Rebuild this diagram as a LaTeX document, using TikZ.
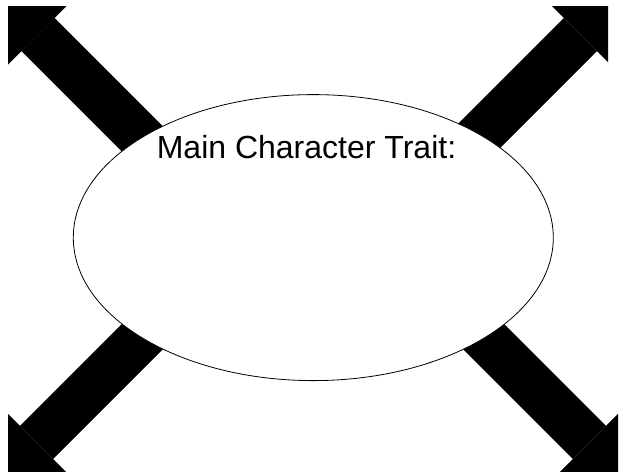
\documentclass[tikz,border=0pt]{standalone}
\usepackage{fontspec}
\setmainfont{Liberation Sans}
\usetikzlibrary{arrows.meta,shapes.geometric,backgrounds}

\begin{document}
\begin{tikzpicture}[x=1pt,y=-1pt,
  trait/.style={ellipse,draw=black,fill=white,line width=.8pt,minimum width=480pt,minimum height=286pt,inner sep=0pt},
  traittext/.style={anchor=base,font=\fontsize{32}{38}\selectfont},
  bigarrow/.style={line width=47pt,-{Triangle[width=88pt,length=60pt,line width=0pt]},black}]
\useasboundingbox (0,0) rectangle (621,475);
\node[trait] (trait) at (313.3,237.6) {};
\node[traittext] (title) at (306.5,158) {Main Character Trait:};
% arrow ends (tails hidden under the ellipse)
\coordinate (nwstart) at (178,174.5);
\coordinate (nestart) at (440.5,174.5);
\coordinate (swstart) at (176.5,302.5);
\coordinate (sestart) at (449.5,302.5);
\coordinate (nwtip) at (-4.4,-7.9);
\coordinate (netip) at (622.9,-7.9);
\coordinate (swtip) at (-5.9,484.9);
\coordinate (setip) at (631.9,484.9);
\begin{scope}[on background layer]
  \clip (8,6) rectangle (618,471);
  \draw[bigarrow] (nwstart) -- (nwtip);
  \draw[bigarrow] (swstart) -- (swtip);
  \draw[bigarrow] (sestart) -- (setip);
  \begin{scope}
    \clip (0,0) rectangle (608,475);
    \draw[bigarrow] (nestart) -- (netip);
  \end{scope}
\end{scope}
\end{tikzpicture}
\end{document}
